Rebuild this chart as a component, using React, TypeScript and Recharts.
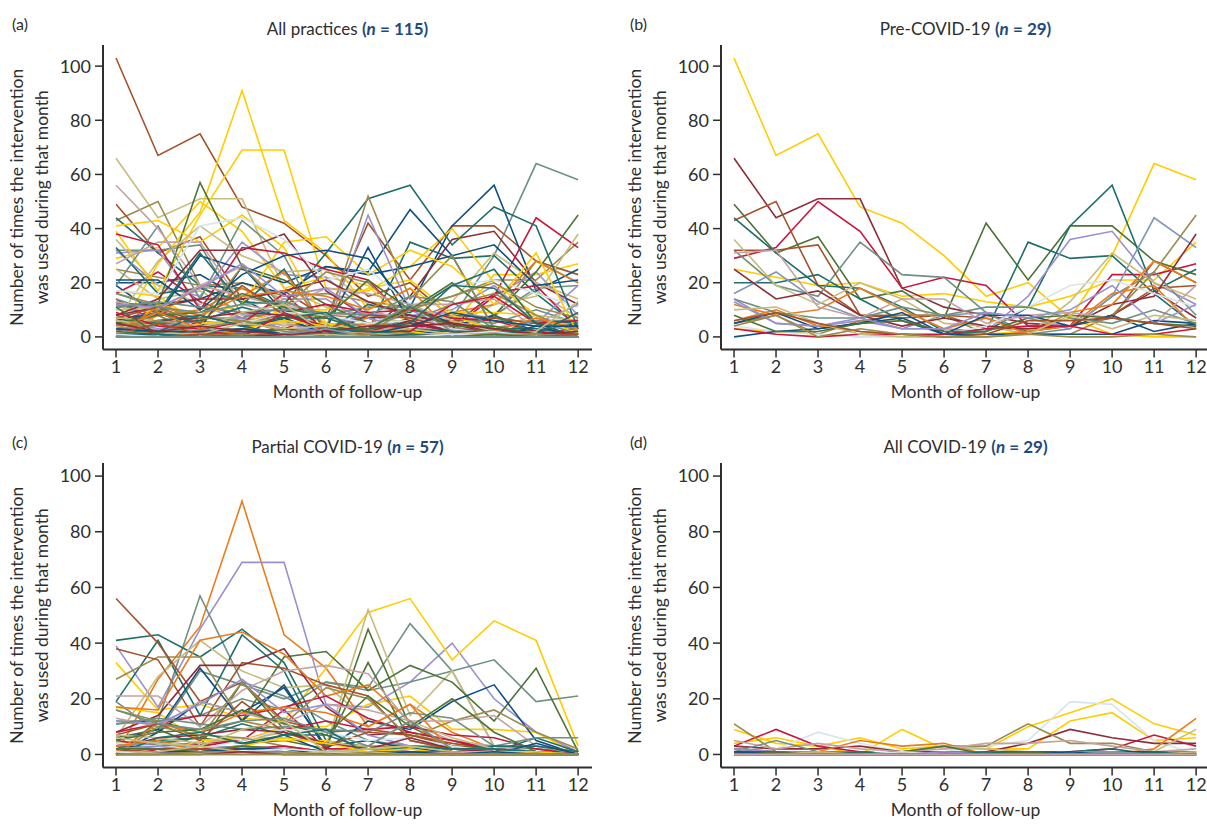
import React from 'react';
import { LineChart, Line, XAxis, YAxis, Label } from 'recharts';

const months = [1, 2, 3, 4, 5, 6, 7, 8, 9, 10, 11, 12];
const yTicks = [0, 20, 40, 60, 80, 100];

const Y = '#ffcc00', TE = '#1f6f6a', BR = '#a5522b', RD = '#c8173f', NV = '#114f7f', OR = '#e87d1e',
  PU = '#9a8fcf', GN = '#4e7437', GG = '#6f9083', KH = '#c6bc7e', OB = '#9a8a4c', DR = '#8e2c3a',
  LB = '#d4e6ec', DP = '#c4a3a3', ST = '#7f97b5';

// pre-COVID practices
const preCovid = [
  [103, 67, 75, 48, 42, 30, 15, 20, 7, 1, 0, 0],
  [25, 22, 19, 20, 15, 16, 13, 11, 15, 21, 21, 35],
  [3, 2, 1, 0, 1, 0, 1, 2, 7, 30, 64, 58],
  [66, 44, 51, 51, 18, 11, 8, 5, 4, 8, 17, 7],
  [29, 33, 50, 39, 18, 22, 19, 4, 4, 23, 23, 27],
  [43, 50, 19, 8, 7, 8, 7, 2, 4, 7, 28, 20],
  [49, 31, 37, 14, 17, 7, 42, 21, 41, 41, 28, 23],
  [44, 31, 19, 18, 11, 2, 2, 35, 29, 30, 16, 4],
  [20, 20, 23, 14, 6, 1, 2, 11, 41, 56, 17, 25],
  [14, 5, 4, 6, 3, 3, 2, 15, 36, 39, 20, 12],
  [32, 19, 15, 35, 23, 22, 9, 1, 3, 15, 24, 8],
  [16, 24, 13, 7, 3, 8, 9, 7, 3, 15, 44, 33],
  [32, 32, 34, 8, 8, 8, 3, 3, 4, 8, 18, 19],
  [36, 19, 12, 20, 14, 5, 4, 1, 13, 31, 20, 14],
  [5, 8, 1, 6, 8, 8, 1, 1, 1, 8, 24, 45],
  [25, 14, 17, 8, 4, 7, 4, 3, 4, 12, 15, 38],
  [12, 8, 10, 18, 10, 3, 7, 1, 9, 12, 28, 20],
  [6, 10, 4, 2, 1, 0, 0, 2, 4, 16, 19, 3],
  [31, 32, 11, 7, 14, 14, 5, 8, 9, 7, 5, 19],
  [4, 2, 1, 0, 0, 1, 4, 11, 19, 21, 16, 11],
  [0, 2, 3, 5, 9, 1, 8, 8, 4, 8, 2, 5],
  [5, 9, 3, 5, 7, 1, 1, 1, 1, 1, 6, 5],
  [3, 1, 0, 1, 1, 1, 3, 4, 4, 1, 1, 3],
  [8, 2, 2, 5, 6, 2, 2, 7, 8, 7, 5, 4],
  [14, 9, 7, 7, 11, 8, 11, 11, 7, 5, 10, 5],
  [13, 5, 4, 7, 3, 3, 9, 7, 10, 19, 5, 12],
  [10, 11, 5, 1, 0, 0, 0, 1, 8, 3, 8, 6],
  [6, 9, 5, 2, 1, 0, 1, 6, 6, 7, 5, 3],
  [4, 8, 0, 3, 1, 0, 0, 1, 0, 0, 1, 0],
];
const preColors = [Y, Y, Y, DR, RD, BR, GN, TE, TE, PU, GG, ST, BR, KH, OB, DR, OR, OR, DP, LB, NV, NV, RD, GN, GG, PU, KH, BR, OB];
const preColorsAll = [BR, OB, GG, KH, Y, OB, BR, TE, NV, DR, PU, RD, GG, KH, GN, KH, OR, RD, PU, LB, NV, TE, RD, GN, GG, PU, KH, BR, OB];

// practices partly in COVID
const partialCovid = [
  [0, 27, 46, 91, 43, 31, 10, 18, 8, 2, 1, 0],
  [39, 17, 45, 69, 69, 18, 17, 26, 40, 20, 8, 1],
  [33, 16, 18, 13, 12, 31, 51, 56, 34, 48, 41, 3],
  [17, 15, 5, 5, 10, 10, 18, 21, 9, 9, 8, 0],
  [11, 12, 57, 26, 21, 12, 5, 3, 2, 1, 1, 0],
  [12, 12, 14, 20, 16, 26, 24, 47, 30, 3, 2, 1],
  [19, 8, 30, 25, 20, 26, 23, 26, 30, 34, 19, 21],
  [41, 43, 35, 45, 33, 5, 2, 1, 1, 0, 1, 0],
  [19, 41, 14, 43, 30, 1, 2, 3, 2, 1, 6, 1],
  [27, 35, 35, 12, 9, 4, 3, 3, 3, 2, 1, 0],
  [6, 28, 41, 30, 24, 25, 12, 8, 3, 2, 1, 0],
  [4, 5, 3, 5, 8, 3, 52, 14, 30, 3, 1, 0],
  [0, 12, 8, 12, 35, 37, 23, 32, 26, 12, 31, 1],
  [2, 4, 6, 4, 5, 2, 45, 10, 3, 2, 1, 0],
  [6, 9, 3, 26, 9, 3, 33, 5, 2, 1, 1, 0],
  [38, 34, 10, 33, 31, 25, 21, 5, 2, 1, 0, 0],
  [56, 40, 19, 26, 12, 8, 9, 7, 4, 2, 1, 0],
  [8, 14, 32, 32, 38, 17, 7, 8, 5, 1, 1, 0],
  [17, 16, 41, 44, 36, 21, 25, 12, 1, 0, 0, 0],
  [21, 21, 10, 23, 30, 32, 29, 11, 5, 3, 1, 0],
  [5, 9, 31, 12, 25, 2, 12, 9, 19, 25, 5, 0],
  [0, 8, 19, 15, 24, 3, 5, 2, 1, 0, 0, 0],
  [5, 3, 4, 5, 16, 2, 2, 1, 1, 0, 0, 0],
  [4, 1, 3, 5, 9, 12, 9, 10, 7, 6, 2, 0],
  [8, 11, 14, 14, 17, 21, 13, 8, 5, 2, 0, 0],
  [16, 12, 6, 26, 11, 24, 20, 6, 12, 16, 8, 2],
  [13, 10, 19, 15, 11, 18, 16, 12, 12, 14, 3, 1],
  [12, 11, 18, 27, 15, 18, 7, 3, 2, 1, 0, 0],
  [11, 13, 11, 9, 10, 9, 8, 15, 13, 3, 6, 6],
  [3, 5, 6, 11, 7, 7, 2, 2, 2, 3, 3, 1],
  [0, 0, 5, 6, 5, 5, 2, 3, 1, 0, 0, 0],
  [1, 11, 8, 15, 17, 15, 10, 18, 1, 1, 1, 0],
  [7, 11, 5, 19, 8, 3, 8, 7, 3, 2, 1, 0],
  [7, 6, 4, 6, 6, 4, 3, 12, 6, 2, 1, 0],
  [5, 8, 9, 16, 11, 7, 21, 10, 20, 8, 1, 0],
  [4, 3, 2, 5, 9, 8, 5, 6, 3, 1, 1, 0],
  [3, 2, 2, 3, 7, 1, 1, 2, 1, 0, 4, 0],
  [2, 6, 7, 9, 8, 4, 2, 6, 2, 1, 0, 0],
  [0, 10, 7, 6, 3, 1, 1, 1, 0, 0, 0, 0],
  [3, 4, 2, 3, 1, 1, 2, 1, 1, 1, 0, 0],
  [16, 11, 9, 12, 13, 8, 3, 12, 2, 2, 1, 0],
  [0, 6, 8, 4, 7, 9, 0, 3, 2, 2, 1, 0],
  [1, 0, 1, 3, 6, 4, 1, 2, 0, 1, 1, 0],
  [0, 1, 2, 2, 3, 1, 1, 1, 0, 0, 0, 0],
  [3, 5, 1, 3, 2, 1, 1, 1, 1, 0, 0, 0],
  [2, 3, 1, 0, 1, 1, 1, 0, 0, 0, 0, 0],
  [6, 4, 3, 9, 12, 1, 2, 3, 1, 1, 0, 0],
  [1, 2, 2, 1, 0, 0, 1, 1, 1, 0, 0, 0],
  [2, 2, 1, 3, 2, 1, 1, 0, 0, 0, 0, 0],
  [1, 1, 0, 2, 1, 1, 0, 0, 1, 0, 0, 0],
  [0, 1, 1, 2, 2, 0, 0, 1, 0, 1, 0, 0],
  [1, 0, 0, 1, 2, 1, 0, 0, 0, 0, 0, 0],
  [0, 1, 3, 1, 0, 1, 1, 0, 0, 0, 0, 0],
  [0, 0, 1, 1, 1, 0, 0, 0, 0, 0, 0, 0],
  [0, 0, 0, 1, 0, 0, 0, 0, 0, 0, 0, 0],
  [0, 0, 0, 0, 0, 0, 0, 0, 0, 0, 0, 0],
  [0, 0, 0, 0, 0, 0, 0, 0, 0, 0, 0, 0],
];
const partialColors = [OR, PU, Y, Y, GG, GG, GG, TE, TE, OB, KH, KH, GN, GN, GN, BR, BR, DR, OR, DP, NV, NV, RD, RD, RD, OB, DP, PU, GG, TE, Y, OR, BR, KH, GN, LB, NV, DR, OB, ST, GG, TE, Y, RD, OR, PU, KH, BR, GN, DP, NV, LB, KH, OB, DR, GG, OB];
const partialColorsAll = [Y, Y, TE, Y, GN, NV, NV, Y, GG, DP, KH, OB, Y, PU, NV, RD, DP, DR, LB, NV, TE, OR, RD, RD, DR, OB, DP, PU, GG, TE, Y, OR, BR, KH, GN, LB, NV, DR, OB, ST, GG, TE, Y, RD, OR, PU, KH, BR, GN, DP, NV, LB, KH, OB, DR, GG, OB];

// practices wholly in COVID
const allCovid = [
  [4, 6, 3, 6, 2, 3, 2, 10, 15, 20, 11, 7],
  [9, 4, 3, 0, 9, 2, 2, 2, 12, 15, 5, 6],
  [3, 2, 8, 4, 1, 1, 3, 5, 19, 18, 5, 0],
  [3, 9, 3, 1, 0, 0, 1, 0, 1, 2, 7, 3],
  [3, 2, 2, 3, 1, 1, 1, 4, 9, 6, 4, 4],
  [2, 1, 1, 5, 3, 4, 0, 0, 0, 0, 2, 13],
  [11, 1, 1, 0, 1, 3, 3, 11, 4, 4, 1, 1],
  [0, 0, 0, 0, 1, 3, 2, 1, 0, 1, 1, 9],
  [5, 2, 4, 2, 1, 2, 4, 4, 5, 3, 1, 2],
  [1, 5, 1, 1, 0, 1, 1, 0, 1, 1, 0, 0],
  [1, 1, 1, 0, 1, 3, 0, 0, 0, 0, 1, 0],
  [2, 1, 1, 0, 0, 0, 1, 1, 1, 2, 0, 1],
  [1, 0, 0, 0, 1, 0, 0, 0, 0, 1, 1, 0],
  [2, 1, 0, 1, 0, 1, 0, 0, 1, 0, 0, 0],
  [0, 1, 1, 0, 0, 0, 1, 0, 1, 1, 0, 0],
  [1, 0, 0, 1, 0, 0, 0, 1, 0, 0, 0, 1],
  [0, 0, 1, 0, 1, 0, 0, 0, 0, 1, 0, 0],
  [1, 1, 0, 0, 0, 1, 0, 0, 0, 0, 0, 0],
  [0, 0, 0, 1, 0, 0, 1, 0, 0, 0, 1, 0],
  [0, 1, 0, 0, 0, 0, 0, 1, 0, 0, 0, 0],
  [1, 0, 0, 0, 0, 0, 0, 0, 1, 0, 0, 0],
  [0, 0, 1, 0, 0, 0, 0, 0, 0, 0, 0, 1],
  [0, 0, 0, 0, 1, 0, 0, 0, 0, 0, 0, 0],
  [0, 0, 0, 0, 0, 1, 0, 0, 0, 0, 0, 0],
  [0, 0, 0, 0, 0, 0, 0, 0, 0, 1, 0, 0],
  [0, 0, 0, 0, 0, 0, 0, 0, 0, 0, 0, 0],
  [0, 0, 0, 0, 0, 0, 0, 0, 0, 0, 0, 0],
  [0, 0, 0, 0, 0, 0, 0, 0, 0, 0, 0, 0],
  [0, 0, 0, 0, 0, 0, 0, 0, 0, 0, 0, 0],
];
const allColors = [Y, Y, LB, RD, DR, OR, OB, KH, DP, GG, GN, TE, NV, PU, ST, BR, OR, RD, TE, GN, NV, KH, LB, PU, ST, GG, OB, BR, DP];
const allColorsAll = [OB, RD, TE, OR, NV, KH, GN, TE, DR, BR, ST, LB, DP, GN, KH, RD, OR, NV, OB, TE, LB, BR, DR, KH, GN, DP, RD, PU, GG];

const toRows = (series: number[][]) =>
  months.map((month, m) => {
    const row: any = { month };
    series.forEach((values, i) => { row['s' + i] = values[m]; });
    return row;
  });

const textColor = '#2e2e2e';
const tickStyle = { fontSize: 18, fill: textColor, fontFamily: 'Lato' };

const YLabel = ({ viewBox }: any) => {
  const cy = viewBox.y + viewBox.height / 2;
  return (
    <g fontFamily="Lato" fontSize={17.5} fill={textColor} textAnchor="middle">
      <text transform={`translate(23 ${cy}) rotate(-90)`}>Number of times the intervention</text>
      <text transform={`translate(48 ${cy}) rotate(-90)`}>was used during that month</text>
    </g>
  );
};

const Panel: React.FC<any> = ({ left, top, letter, title, n, series, colors, yDomain }) => (
  <div style={{ position: 'absolute', left, top, width: 600, height: 410 }}>
    <div style={{ position: 'absolute', left: 12, top: 14, fontFamily: 'Lato', fontSize: 16, color: textColor }}>{letter}</div>
    <div style={{ position: 'absolute', left: 103, width: 489, top: 18, textAlign: 'center', fontFamily: 'Lato', fontSize: 17, color: textColor }}>
      {title} <span style={{ color: '#1f4a7c', fontWeight: 700 }}>(<i>n</i> = {n})</span>
    </div>
    <LineChart width={600} height={410} data={toRows(series)} margin={{ top: 45, right: 8, bottom: 10.5, left: 0 }}>
      <XAxis
        dataKey="month"
        type="number"
        domain={[0.69, 12.33]}
        ticks={months}
        interval={0}
        allowDataOverflow
        height={50}
        tickSize={8}
        tickMargin={3}
        tick={tickStyle}
        axisLine={{ stroke: textColor, strokeWidth: 2 }}
        tickLine={{ stroke: textColor, strokeWidth: 1.5 }}
      >
        <Label value="Month of follow-up" position="insideBottom" offset={2} style={{ fontFamily: 'Lato', fontSize: 17.5, fill: textColor }} />
      </XAxis>
      <YAxis
        type="number"
        domain={yDomain}
        ticks={yTicks}
        interval={0}
        allowDataOverflow
        width={103}
        tickSize={8}
        tickMargin={4}
        tick={tickStyle}
        axisLine={{ stroke: textColor, strokeWidth: 2 }}
        tickLine={{ stroke: textColor, strokeWidth: 1.5 }}
      >
        <Label content={<YLabel />} />
      </YAxis>
      {series.map((_: number[], i: number) => (
        <Line
          key={i}
          dataKey={'s' + i}
          type="linear"
          stroke={colors[i]}
          strokeWidth={1.6}
          dot={false}
          activeDot={false}
          isAnimationActive={false}
        />
      ))}
    </LineChart>
  </div>
);

export default function App() {
  const everySeries = [...preCovid, ...partialCovid, ...allCovid];
  const everyColor = [...preColorsAll, ...partialColorsAll, ...allColorsAll];
  const topDomain = [-4.65, 107.8];
  const lowDomain = [-4.68, 104.7];
  return (
    <div style={{ position: 'absolute', left: 0, top: 0, width: 1207, height: 825, overflow: 'hidden', background: '#fff' }}>
      <Panel left={0} top={0} letter="(a)" title="All practices" n={115} series={everySeries} colors={everyColor} yDomain={topDomain} />
      <Panel left={618} top={0} letter="(b)" title="Pre-COVID-19" n={29} series={preCovid} colors={preColors} yDomain={topDomain} />
      <Panel left={0} top={418} letter="(c)" title="Partial COVID-19" n={57} series={partialCovid} colors={partialColors} yDomain={lowDomain} />
      <Panel left={618} top={418} letter="(d)" title="All COVID-19" n={29} series={allCovid} colors={allColors} yDomain={lowDomain} />
    </div>
  );
}
